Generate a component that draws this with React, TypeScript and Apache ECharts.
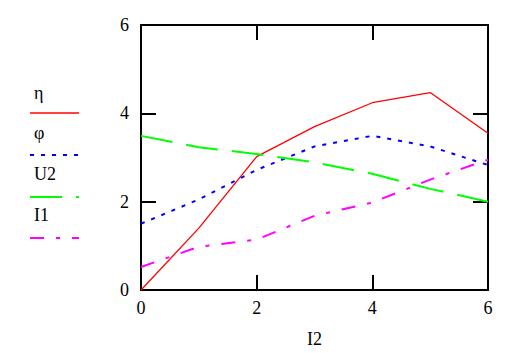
import React, { useEffect, useRef } from "react";
import * as echarts from "echarts";

const xValues = [0, 1, 2, 3, 4, 5, 6];
const etaValues = [0, 1.4, 3.02, 3.7, 4.24, 4.47, 3.55];
const phiValues = [1.5, 2.05, 2.72, 3.25, 3.49, 3.25, 2.83];
const u2Values = [3.49, 3.23, 3.08, 2.89, 2.63, 2.29, 2.0];
const i1Values = [0.52, 0.98, 1.14, 1.68, 1.98, 2.5, 2.95];
const legendNames = ["η", "φ", "U2", "I1"];
const xAxisName = "I2";

const FONT = "'Liberation Serif', serif";

export default function App() {
  const ref = useRef<HTMLDivElement>(null);
  useEffect(() => {
    if (!ref.current) return;
    const chart = echarts.init(ref.current, undefined, { renderer: "svg" });
    const pairs = (ys: number[]) => xValues.map((x, i) => [x, ys[i]]);
    const seriesDefs = [
      { name: legendNames[0], data: etaValues, color: "#ff0000", width: 1.3, dash: "solid" as any },
      { name: legendNames[1], data: phiValues, color: "#0000ff", width: 2, dash: [4, 7] },
      { name: legendNames[2], data: u2Values, color: "#00ff00", width: 2, dash: [32, 14] },
      { name: legendNames[3], data: i1Values, color: "#ff00ff", width: 2, dash: [14, 12, 4, 12] },
    ];
    const axisCommon = {
      type: "value" as const,
      min: 0,
      max: 6,
      interval: 2,
      splitLine: { show: false },
      axisLine: { show: true, onZero: false, lineStyle: { color: "#000", width: 2 } },
      axisTick: { show: true, inside: true, length: 15, lineStyle: { color: "#000", width: 2 } },
    };
    const labelStyle = { color: "#000", fontFamily: FONT, fontSize: 18 };
    const legendTop = [87, 127, 168, 209];
    const lineY = [113, 155, 197, 238];
    const graphics: any[] = [];
    seriesDefs.forEach((s, i) => {
      graphics.push({
        type: "text",
        left: 34,
        top: legendTop[i] - 3,
        style: { text: s.name, fill: "#000", fontFamily: FONT, fontSize: 18 },
      });
      graphics.push({
        type: "line",
        shape: { x1: 30, y1: lineY[i], x2: 79, y2: lineY[i] },
        style: {
          stroke: s.color,
          lineWidth: s.width,
          lineDash: s.dash === "solid" ? null : s.dash,
        },
      });
    });
    chart.setOption({
      animation: false,
      textStyle: { fontFamily: FONT },
      grid: { left: 141, right: 40, top: 25, bottom: 62 },
      xAxis: [
        {
          ...axisCommon,
          position: "bottom",
          name: xAxisName,
          nameLocation: "middle",
          nameGap: 40,
          nameTextStyle: labelStyle,
          axisLabel: { ...labelStyle, margin: 9 },
        },
        { ...axisCommon, position: "top", axisLabel: { show: false } },
      ],
      yAxis: [
        {
          ...axisCommon,
          position: "left",
          axisLabel: { ...labelStyle, margin: 12 },
        },
        { ...axisCommon, position: "right", axisLabel: { show: false } },
      ],
      series: seriesDefs.map((s) => ({
        type: "line",
        name: s.name,
        data: pairs(s.data),
        showSymbol: false,
        symbol: "none",
        lineStyle: { color: s.color, width: s.width, type: s.dash },
        itemStyle: { color: s.color },
      })),
      graphic: graphics,
    });
    return () => chart.dispose();
  }, []);
  return (
    <div
      ref={ref}
      style={{ position: "fixed", left: 0, top: 0, width: 528, height: 353, background: "#fff" }}
    />
  );
}
